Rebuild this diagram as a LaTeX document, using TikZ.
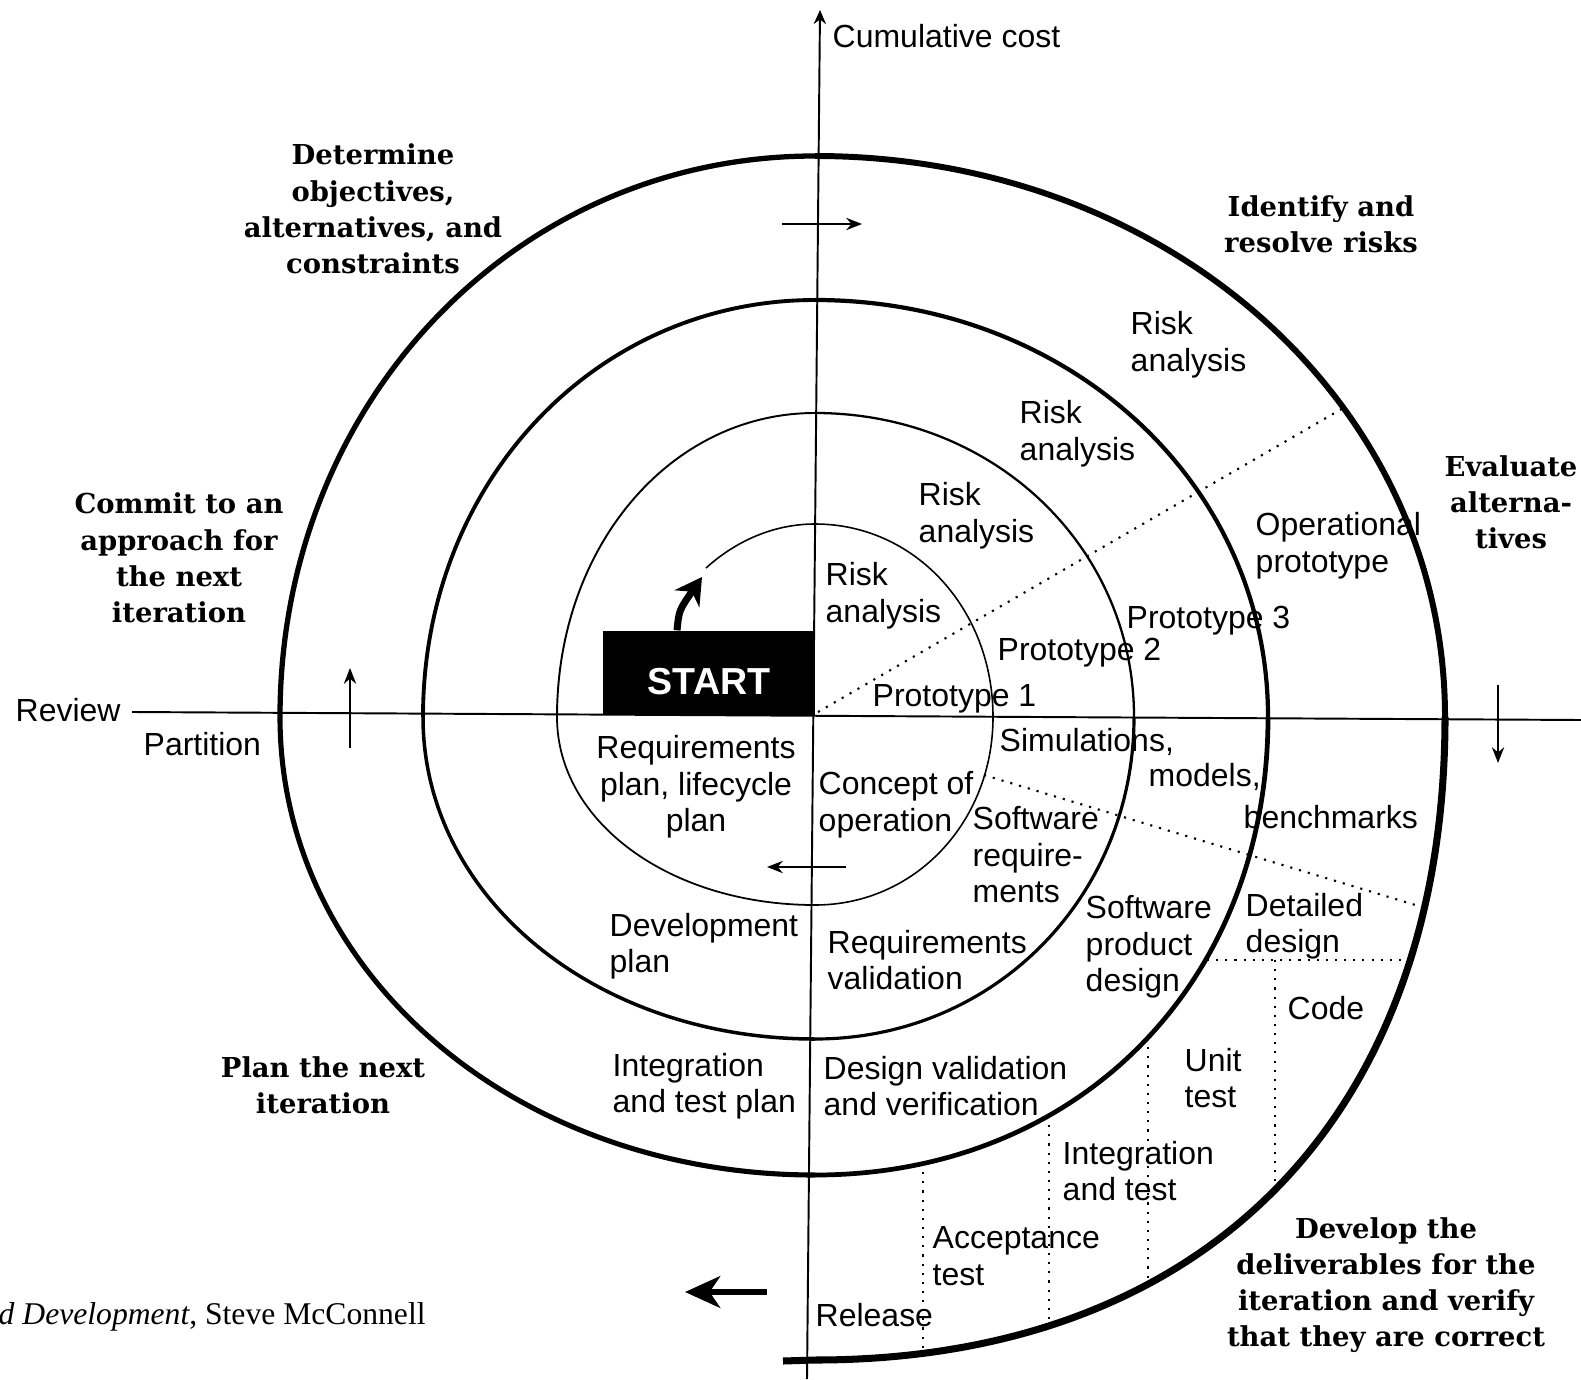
\documentclass[tikz,border=0pt]{standalone}
\usepackage{fontspec}
\usetikzlibrary{arrows.meta}
\newfontfamily\phasefamily{DejaVu Serif}
\newfontfamily\lblfamily{Liberation Sans}
\newfontfamily\capfamily{Liberation Serif}
\newcommand{\phasefont}{\phasefamily\bfseries\fontsize{7.8}{10.3}\selectfont}
\newcommand{\lblfont}{\lblfamily\fontsize{9.1}{10.4}\selectfont}

\begin{document}
\begin{tikzpicture}[x=0.1mm, y=-0.1mm,
  phase/.style={font=\phasefont, align=center, inner sep=0pt},
  lbl/.style={font=\lblfont, align=left, anchor=west, inner sep=0pt},
  axis/.style={line width=0.55pt},
  turn/.style={line width=0.5pt, -{Stealth[length=4.5pt,width=3.5pt]}},
  guide/.style={dotted, line width=0.6pt}]
\useasboundingbox (0,0) rectangle (1581,1379);

% axes
\coordinate (ytop) at (820,10);
\coordinate (ybot) at (807,1379);
\coordinate (xleft) at (132,712);
\coordinate (xright) at (1581,720);
\draw[axis, -{Stealth[length=4pt,width=3.5pt]}] (ybot) -- (ytop);
\draw[axis] (xleft) -- (xright);

% spiral crossings
\coordinate (s0) at (706,568);
\coordinate (T0) at (815,524);
\coordinate (R1) at (993,717);
\coordinate (B1) at (815,905);
\coordinate (L1) at (557,717);
\coordinate (T1) at (815,413);
\coordinate (R2) at (1134,717);
\coordinate (B2) at (815,1039);
\coordinate (L2) at (423,717);
\coordinate (T2) at (815,300);
\coordinate (R3) at (1268,717);
\coordinate (B3) at (815,1175);
\coordinate (L3) at (280,717);
\coordinate (T3) at (815,156);
\coordinate (R4) at (1445,717);
\coordinate (B4) at (815,1360);
\coordinate (end) at (783,1361);

% spiral
\draw[line width=0.45pt] (s0) .. controls (737,540) and (775,524) .. (T0);
\draw[line width=0.45pt] (T0) .. controls (915,524) and (993,609) .. (R1);
\draw[line width=0.45pt] (R1) .. controls (993,822) and (915,905) .. (B1);
\draw[line width=0.5pt] (B1) .. controls (670,905) and (557,822) .. (L1);
\draw[line width=0.55pt] (L1) .. controls (557,547) and (670,413) .. (T1);
\draw[line width=0.65pt] (T1) .. controls (994,413) and (1134,547) .. (R2);
\draw[line width=0.9pt] (R2) .. controls (1134,897) and (994,1039) .. (B2);
\draw[line width=1pt] (B2) .. controls (595,1039) and (423,897) .. (L2);
\draw[line width=1.1pt] (L2) .. controls (423,483) and (595,300) .. (T2);
\draw[line width=1.2pt] (T2) .. controls (1069,300) and (1268,483) .. (R3);
\draw[line width=1.35pt] (R3) .. controls (1268,983) and (1078,1175) .. (B3);
\draw[line width=1.45pt] (B3) .. controls (515,1175) and (280,973) .. (L3);
\draw[line width=1.5pt] (L3) .. controls (280,403) and (515,156) .. (T3);
\draw[line width=1.7pt] (T3) .. controls (1168,156) and (1445,403) .. (R4);
\draw[line width=2pt] (R4) .. controls (1445,1116) and (1206,1360) .. (B4) -- (end);

% dotted sector lines
\coordinate (d1a) at (818,712);  \coordinate (d1b) at (1345,407);
\coordinate (d2a) at (984,775);  \coordinate (d2b) at (1422,907);
\coordinate (d3a) at (1207,960); \coordinate (d3b) at (1408,960);
\coordinate (d4a) at (1275,960); \coordinate (d4b) at (1275,1188);
\coordinate (d5a) at (1148,1038); \coordinate (d5b) at (1148,1283);
\coordinate (d6a) at (1049,1116); \coordinate (d6b) at (1049,1326);
\coordinate (d7a) at (923,1163); \coordinate (d7b) at (923,1352);
\draw[guide] (d1a) -- (d1b);
\draw[guide] (d2a) -- (d2b);
\draw[guide] (d3a) -- (d3b);
\draw[guide] (d4a) -- (d4b);
\draw[guide] (d5a) -- (d5b);
\draw[guide] (d6a) -- (d6b);
\draw[guide] (d7a) -- (d7b);

% direction arrows
\coordinate (a1a) at (782,224);  \coordinate (a1b) at (862,224);
\coordinate (a2a) at (350,748);  \coordinate (a2b) at (350,668);
\coordinate (a3a) at (1498,685); \coordinate (a3b) at (1498,763);
\coordinate (a4a) at (846,867);  \coordinate (a4b) at (767,867);
\coordinate (a5a) at (767,1292); \coordinate (a5b) at (685,1292);
\draw[turn] (a1a) -- (a1b);
\draw[turn] (a2a) -- (a2b);
\draw[turn] (a3a) -- (a3b);
\draw[turn] (a4a) -- (a4b);
\draw[line width=1.7pt, -{Stealth[length=10pt,width=9pt,inset=3pt]}] (a5a) -- (a5b);

% start
\node[fill=black, text=white, font=\lblfamily\bfseries\fontsize{10.7}{12}\selectfont,
  text height=12.3pt, text depth=0pt,
  minimum width=21.2mm, minimum height=8.4mm, inner sep=0pt] (start) at (709,673) {START};
\coordinate (s0tip) at (702,577);
\draw[line width=2pt, -{Stealth[length=7.5pt,width=8.5pt]}] ([xshift=-3.2mm]start.north) .. controls +(2,-20) .. (s0tip);

% quadrant titles
\node[phase] (determine) at (373,209) {Determine\\objectives,\\alternatives, and\\constraints};
\node[phase] (identify) at (1321,224) {Identify and\\resolve risks};
\node[phase] (evaluate) at (1511,502) {Evaluate\\alterna-\\tives};
\node[phase] (commit) at (179,558) {Commit to an\\approach for\\the next\\iteration};
\node[phase] (plan) at (323,1085) {Plan the next\\iteration};
\node[phase] (develop) at (1386,1285) {Develop the\\deliverables for the\\iteration and verify\\that they are correct};

% labels
\node[lbl] (cost) at (832,36) {Cumulative cost};
\node[lbl] (review) at (15,710) {Review};
\node[lbl] (partition) at (143,744) {Partition};
\node[lbl] (risk4) at (1130,345) {Risk\\analysis};
\node[lbl] (risk3) at (1019,434) {Risk\\analysis};
\node[lbl] (risk2) at (918,516) {Risk\\analysis};
\node[lbl] (risk1) at (825,596) {Risk\\analysis};
\node[lbl] (opproto) at (1255,546) {Operational\\prototype};
\node[lbl] (proto3) at (1126,621) {Prototype 3};
\node[lbl] (proto2) at (997,653) {Prototype 2};
\node[lbl] (proto1) at (872,699) {Prototype 1};
\node[lbl] (sim) at (999,742) {Simulations,};
\node[lbl] (models) at (1148,777) {models,};
\node[lbl] (bench) at (1243,817) {benchmarks};
\node[lbl, anchor=center, align=center] (reqplan) at (696,787) {Requirements\\plan, lifecycle\\plan};
\node[lbl] (concept) at (818,805) {Concept of\\operation};
\node[lbl] (swreq) at (972,855) {Software\\require-\\ments};
\node[lbl] (devplan) at (609,946) {Development\\plan};
\node[lbl] (reqval) at (827,960) {Requirements\\validation};
\node[lbl] (swprod) at (1085,947) {Software\\product\\design};
\node[lbl] (detdes) at (1245,926) {Detailed\\design};
\node[lbl] (code) at (1287,1008) {Code};
\node[lbl] (unit) at (1184,1078) {Unit\\test};
\node[lbl] (itplan) at (612,1086) {Integration\\and test plan};
\node[lbl] (desval) at (823,1086) {Design validation\\and verification};
\node[lbl] (inttest) at (1062,1171) {Integration\\and test};
\node[lbl] (accept) at (932,1256) {Acceptance\\test};
\node[lbl] (release) at (815,1315) {Release};

% source line
\node[anchor=west, inner sep=0pt, font=\capfamily\fontsize{9}{11}\selectfont] (source) at (-2,1317) {\textit{d Development}, Steve McConnell};
\end{tikzpicture}
\end{document}
